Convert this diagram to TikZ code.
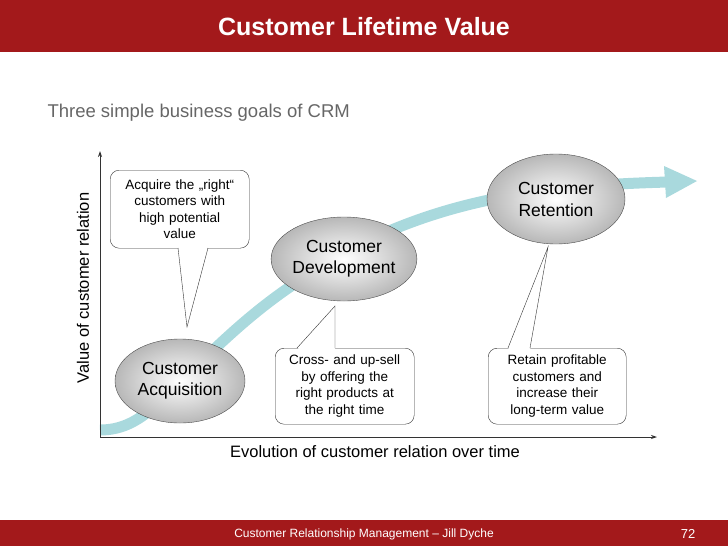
\documentclass[tikz,border=0pt]{standalone}
\usepackage{fontspec}
\setmainfont{Liberation Sans}
\usetikzlibrary{arrows.meta,shapes.geometric}
\definecolor{hdr}{HTML}{A3191B}
\definecolor{teal}{HTML}{A9D9DD}
\definecolor{txt}{HTML}{666666}
\tikzset{
  ell/.style={ellipse,draw=black!70,inner color=white,outer color=black!28,align=center,font=\fontsize{17.5}{21}\selectfont,inner sep=0pt},
  callout/.style={draw=black!80,fill=white,rounded corners=9pt,align=center,font=\fontsize{13.5}{16.5}\selectfont,inner sep=2pt},
}
\begin{document}
\begin{tikzpicture}[x=1pt,y=-1pt]
\useasboundingbox (0,0) rectangle (728,546);
\fill[hdr] (0,0) rectangle (728,52);
\node[text=white,font=\bfseries\fontsize{25}{28}\selectfont] (title) at (364,27) {Customer Lifetime Value};
\node[text=txt,anchor=west,font=\fontsize{18.5}{22}\selectfont] (sub) at (44,113) {Three simple business goals of CRM};
% curve
\draw[teal,line width=11pt] (100,430) .. controls (140,430) and (160,400) .. (205,358)
  .. controls (260,305) and (300,275) .. (380,235) .. controls (470,195) and (560,185) .. (668,182);
\fill[teal] (664,166) -- (697,181) -- (666,198) -- cycle;
% axes
\coordinate (o) at (100,437);
\coordinate (yt) at (100,151);
\coordinate (xt) at (657,437);
\draw[-{Stealth[length=6pt,width=4pt]},black!80,line width=0.8pt] (o) -- (yt);
\draw[-{Stealth[length=6pt,width=4pt]},black!80,line width=0.8pt] (o) -- (xt);
\node[rotate=90,font=\fontsize{16.5}{19}\selectfont] (ylab) at (83,288) {Value of customer relation};
\node[font=\fontsize{16.5}{19}\selectfont] (xlab) at (375,452) {Evolution of customer relation over time};
% ellipses
\node[ell,minimum width=130pt,minimum height=84pt] (acq) at (180,381) {Customer\\Acquisition};
\node[ell,minimum width=116pt,minimum height=84pt] (dev) at (344,259) {Customer\\Development};
\node[ell,minimum width=138pt,minimum height=90pt] (ret) at (556,199) {};
\node[align=center,font=\fontsize{17.5}{22}\selectfont] (rett) at (556,199) {Customer\\Retention};
% callouts
\node[callout,minimum width=139pt,minimum height=78pt,anchor=north west,text width=134pt] (c1) at (110,170) {Acquire the „right“\\customers with\\high potential\\value};
\fill[white] (178,246) -- (187,327) -- (208,246) -- cycle;
\draw[black!80] (178,248) -- (187,327) -- (208,248);
\node[callout,minimum width=139pt,minimum height=76pt,anchor=north west,text width=134pt] (c2) at (275,348) {Cross- and up-sell\\by offering the\\right products at\\the right time};
\fill[white] (297,350) -- (335,306) -- (335,350) -- cycle;
\draw[black!80] (297,348) -- (335,306) -- (335,348);
\node[callout,minimum width=138pt,minimum height=76pt,anchor=north west,text width=133pt] (c3) at (488,348) {Retain profitable\\customers and\\increase their\\long-term value};
\fill[white] (508,350) -- (548,247) -- (530,350) -- cycle;
\draw[black!80] (508,348) -- (548,247) -- (530,348);
% footer
\fill[hdr] (0,520) rectangle (728,546);
\node[text=white,font=\fontsize{12}{14}\selectfont] (foot) at (364,534) {Customer Relationship Management – Jill Dyche};
\node[text=white,font=\fontsize{13}{15}\selectfont] (pg) at (688,534) {72};
\end{tikzpicture}
\end{document}
